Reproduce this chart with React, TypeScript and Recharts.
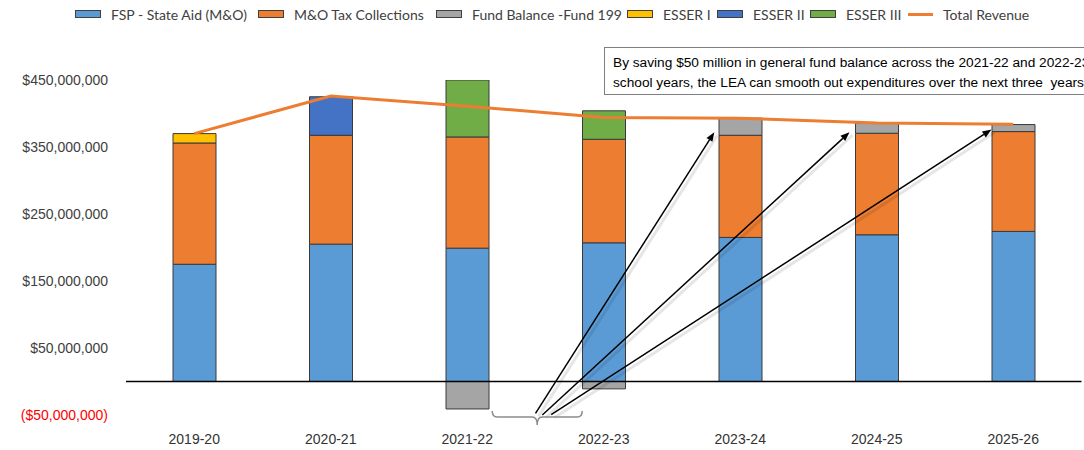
import React from 'react';
import { ComposedChart, Bar, Line, XAxis, YAxis, ReferenceLine } from 'recharts';

// ---- data (values in millions of dollars) ----
const categories = ['2019-20', '2020-21', '2021-22', '2022-23', '2023-24', '2024-25', '2025-26'];
const fspStateAid = [175, 205, 199, 207, 215, 219, 224];
const moTaxCollections = [181, 162.5, 166, 154.5, 152.5, 151.5, 149];
const fundBalance199 = [null, null, -41, -11, 25.5, 15, 10.5];
const esser1 = [14, null, null, null, null, null, null];
const esser2 = [null, 57.5, null, null, null, null, null];
const esser3 = [null, null, 86, 42.5, null, null, null];
const totalRevenue = [370, 426, 411, 394, 393, 386, 384];
const yTicks = [-50, 50, 150, 250, 350, 450];
const yDomain = [-50, 450];

// annotation: arrows from the brace (category index, value in millions)
const arrowStarts = [[2.5, -47.5], [2.55, -50], [2.615, -49.5]];
const arrowEnds = [[3.81, 372], [4.8, 372], [5.84, 376]];
const braceSpan = [2.183, 2.842];
const braceLevel = -53;
const noteLines = [
  'By saving $50 million in general fund balance across the 2021-22 and 2022-23',
  'school years, the LEA can smooth out expenditures over the next three  years.',
];

const M = 1e6;
const toM = (v: number | null) => (v == null ? null : v * M);

const data = categories.map((name, i) => ({
  name,
  pos: i,
  fsp: toM(fspStateAid[i]),
  mo: toM(moTaxCollections[i]),
  fb: toM(fundBalance199[i]),
  e1: toM(esser1[i]),
  e2: toM(esser2[i]),
  e3: toM(esser3[i]),
  total: toM(totalRevenue[i]),
}));

const series = [
  { key: 'fsp', name: 'FSP - State Aid (M&O)', color: '#5B9BD5' },
  { key: 'mo', name: 'M&O Tax Collections', color: '#ED7D31' },
  { key: 'fb', name: 'Fund Balance -Fund 199', color: '#A5A5A5' },
  { key: 'e1', name: 'ESSER I', color: '#FFC000' },
  { key: 'e2', name: 'ESSER II', color: '#4472C4' },
  { key: 'e3', name: 'ESSER III', color: '#70AD47' },
];
const legendIconLeft = [75, 258, 436, 627, 717, 810, 908];

const FONT = '"Liberation Sans", Arial, sans-serif';
const LFONT = 'Lato, "Liberation Sans", sans-serif';

const CHART_W = 1084;
const PLOT_LEFT = 126;
const PLOT_RIGHT_MARGIN = 2.5;
const HALF_BAND = (CHART_W - PLOT_LEFT - PLOT_RIGHT_MARGIN) / categories.length / 2;

const YTick = (props: any) => {
  const { x, y, payload } = props;
  const v = payload.value as number;
  const abs = '$' + Math.abs(v).toLocaleString('en-US');
  const label = v < 0 ? `(${abs})` : abs;
  return (
    <text x={x} y={y} dy={5} textAnchor="end" fontSize={14} fontFamily={FONT} fill={v < 0 ? '#FF0000' : '#404040'}>
      {label}
    </text>
  );
};

const ArrowShape = (p: any) => {
  const { x1, y1, x2, y2 } = p;
  const ang = Math.atan2(y2 - y1, x2 - x1);
  const L = 9;
  const W = 3.5;
  const bx = x2 - L * Math.cos(ang);
  const by = y2 - L * Math.sin(ang);
  const px = -Math.sin(ang) * W;
  const py = Math.cos(ang) * W;
  return (
    <g>
      <line x1={x1 + 3} y1={y1 + 3} x2={x2 + 3} y2={y2 + 3} stroke="#000" strokeOpacity={0.1} strokeWidth={3} />
      <line x1={x1} y1={y1} x2={bx} y2={by} stroke="#000" strokeWidth={1.5} />
      <polygon points={`${x2},${y2} ${bx + px},${by + py} ${bx - px},${by - py}`} fill="#000" />
    </g>
  );
};

const BraceShape = (p: any) => {
  const { x1, y1, x2 } = p;
  const y = y1;
  const mid = (x1 + x2) / 2;
  const d = `M${x1},${y - 6} Q${x1},${y} ${x1 + 5},${y} L${mid - 5},${y} Q${mid},${y} ${mid},${y + 8} Q${mid},${y} ${mid + 5},${y} L${x2 - 5},${y} Q${x2},${y} ${x2},${y - 6}`;
  return <path d={d} fill="none" stroke="#8C8C8C" strokeWidth={1.5} />;
};

const LegendRow = () => (
  <div style={{ position: 'absolute', left: 0, top: 4, height: 20, width: CHART_W, fontFamily: LFONT, fontSize: 14, color: '#404040' }}>
    {series.map((s, i) => (
      <div key={s.key} style={{ position: 'absolute', left: legendIconLeft[i], top: 0, display: 'flex', alignItems: 'center', height: 20, whiteSpace: 'nowrap' }}>
        <div style={{ width: 24, height: 6, background: s.color, border: '1px solid #404040', marginRight: 10 }} />
        <span>{s.name}</span>
      </div>
    ))}
    <div style={{ position: 'absolute', left: legendIconLeft[6], top: 0, display: 'flex', alignItems: 'center', height: 20, whiteSpace: 'nowrap' }}>
      <div style={{ width: 25, height: 3, background: '#ED7D31', marginRight: 10 }} />
      <span>Total Revenue</span>
    </div>
  </div>
);

export default function App() {
  return (
    <div
      style={{
        position: 'absolute',
        left: 0,
        top: 0,
        width: CHART_W,
        height: 450,
        overflow: 'hidden',
        background: '#fff',
        fontFamily: FONT,
      }}
    >
      <ComposedChart
        width={CHART_W}
        height={450}
        data={data}
        stackOffset="sign"
        margin={{ top: 80, right: PLOT_RIGHT_MARGIN, bottom: 0, left: 0 }}
        barCategoryGap={0}
      >
        <XAxis
          dataKey="name"
          axisLine={false}
          tickLine={false}
          tickSize={0}
          tickMargin={19}
          height={35}
          tick={{ fontSize: 14, fill: '#333333', fontFamily: FONT }}
          interval={0}
        />
        <XAxis
          xAxisId="num"
          dataKey="pos"
          type="number"
          domain={['dataMin', 'dataMax']}
          padding={{ left: HALF_BAND, right: HALF_BAND }}
          hide
        />
        <YAxis
          width={PLOT_LEFT}
          domain={yDomain.map((v) => v * M) as [number, number]}
          ticks={yTicks.map((v) => v * M)}
          allowDataOverflow
          axisLine={false}
          tickLine={false}
          tickSize={0}
          tickMargin={18}
          tick={<YTick />}
          interval={0}
        />
        {series.map((s) => (
          <Bar
            key={s.key}
            dataKey={s.key}
            name={s.name}
            stackId="a"
            fill={s.color}
            stroke="#3A3A3A"
            strokeWidth={1}
            barSize={43}
            isAnimationActive={false}
          />
        ))}
        <ReferenceLine y={0} stroke="#000" strokeWidth={1.5} />
        <Line
          dataKey="total"
          name="Total Revenue"
          stroke="#ED7D31"
          strokeWidth={3}
          dot={false}
          activeDot={false}
          isAnimationActive={false}
        />
        {arrowStarts.map((s, i) => (
          <ReferenceLine
            key={'arrow' + i}
            xAxisId="num"
            ifOverflow="visible"
            segment={[
              { x: s[0], y: s[1] * M },
              { x: arrowEnds[i][0], y: arrowEnds[i][1] * M },
            ]}
            shape={ArrowShape}
          />
        ))}
        <ReferenceLine
          xAxisId="num"
          ifOverflow="visible"
          segment={[
            { x: braceSpan[0], y: braceLevel * M },
            { x: braceSpan[1], y: braceLevel * M },
          ]}
          shape={BraceShape}
        />
      </ComposedChart>
      <LegendRow />
      <div
        style={{
          position: 'absolute',
          left: 604,
          top: 47,
          width: 520,
          height: 48,
          border: '1.5px solid #7F7F7F',
          background: '#fff',
          padding: '5px 0 0 8px',
          boxSizing: 'border-box',
          fontFamily: FONT,
          fontSize: 13.7,
          lineHeight: '20px',
          color: '#000',
          whiteSpace: 'pre',
        }}
      >
        {noteLines.map((l, i) => (
          <div key={i}>{l}</div>
        ))}
      </div>
    </div>
  );
}
